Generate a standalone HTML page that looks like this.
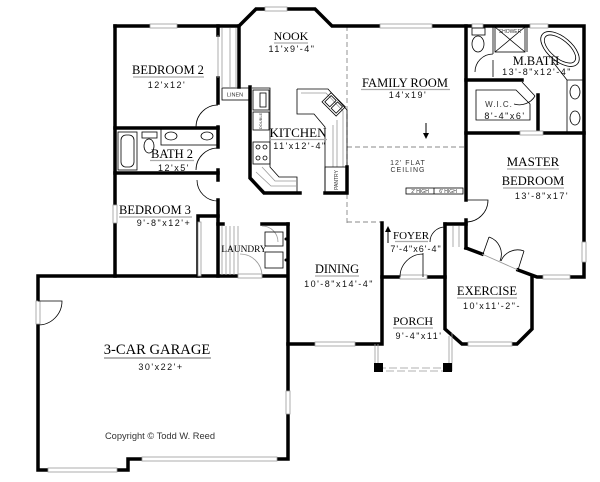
<!DOCTYPE html>
<html><head><meta charset="utf-8"><style>
html,body{margin:0;padding:0;background:#fff;}
svg{display:block}
.l{font-family:"Liberation Serif",serif;fill:#000;text-anchor:middle}
.d{font-family:"Liberation Sans",sans-serif;font-size:9px;letter-spacing:1.5px;fill:#111;text-anchor:middle}
.s{font-family:"Liberation Sans",sans-serif;fill:#333;text-anchor:middle}
.w{fill:none;stroke:#000;stroke-width:3.5;stroke-linecap:square;stroke-linejoin:miter}
.t{fill:none;stroke:#000;stroke-width:0.8}
.g{fill:none;stroke:#999;stroke-width:0.8}
.u{stroke:#aaa;stroke-width:1.3}
.win{fill:#fff;stroke:#999;stroke-width:0.8}
</style></head><body>
<svg width="600" height="482" viewBox="0 0 600 482" xmlns="http://www.w3.org/2000/svg">
<rect width="600" height="482" fill="#fff"/>

<!-- family room dashed -->
<path fill="none" stroke="#888" stroke-width="0.9" stroke-dasharray="5,3" d="M347,26 V223 M347,147 H466 M347,222 H382"/>

<!-- walls -->
<path class="w" d="M115,26 H239 L256,9 H315 L332,26 H584 V277 H537 L518,270"/>
<path class="w" d="M482,254 L466,248"/>
<path class="w" d="M445,224 V329 L462,344 H517 L532,329 V277"/>
<path class="w" d="M445,224 H466"/>
<path class="w" d="M466,26 V200 M466,220 V248"/>
<path class="w" d="M466,133 H520 M543,133 H584"/>
<path class="w" d="M466,80 H522 M538,95 V133"/>
<path class="w" d="M382,223 V344 H288"/>
<path class="w" d="M382,277 H445"/>
<path class="w" d="M288,224 V459 H128 V470 H38 V276 H288"/>
<path class="w" d="M115,26 V276"/>
<path class="w" d="M115,128 H218 M115,173 H218"/>
<path class="w" d="M218,26 V35 M218,78 V103 M218,127 V147 M218,170 V180 M218,200 V276"/>
<path class="w" d="M198,276 V216 H218"/>
<path class="w" d="M218,224 H223 M262,224 H288"/>
<path class="w" d="M250,87 V178 L264,193 H300"/>
<path class="w" d="M325,193 H347 V167"/>
<path class="w" d="M239,26 V87"/>

<!-- windows / openings -->
<rect class="win" x="150" y="24" width="27" height="4"/>
<rect class="win" x="265" y="7" width="22" height="4"/>
<rect class="win" x="380" y="24" width="52" height="4"/>
<rect class="win" x="472" y="24" width="11" height="4"/>
<rect class="win" x="530" y="24" width="18" height="4"/>
<rect class="win" x="582" y="242" width="4" height="20"/>
<rect class="win" x="543" y="275" width="27" height="4"/>
<rect class="win" x="468" y="342" width="44" height="4"/>
<rect class="win" x="315" y="342" width="40" height="4"/>
<rect class="win" x="48" y="468" width="69" height="4"/>
<rect class="win" x="142" y="457" width="135" height="4"/>
<rect class="win" x="286" y="391" width="4" height="23"/>
<rect class="win" x="36" y="301" width="4" height="23"/>
<rect class="win" x="238" y="274" width="24" height="4"/>
<rect class="win" x="400" y="275" width="27" height="4"/>
<rect class="win" x="113" y="205" width="4" height="18"/>
<rect class="win" x="520" y="131" width="23" height="4"/>
<rect class="win" x="198" y="222" width="3" height="54"/>

<!-- bedroom 2 closet -->
<path class="g" d="M218,35 V78 M222,28 V87 M230,28 V87 M236,28 V87"/>
<rect class="t" x="222" y="88" width="27" height="12" fill="#fff"/>
<text class="s" x="235" y="96.5" font-size="5.5">LINEN</text>

<!-- doors -->
<path class="t" d="M196,127 A22,22 0 0 1 218,105"/>
<path class="t" d="M196,170 A22,22 0 0 1 218,148"/>
<path class="t" d="M197,180 A21,21 0 0 0 218,201"/>
<path class="t" d="M38,301 H62 A24,24 0 0 1 38,325"/>
<path class="t" d="M466,200 H488 A22,22 0 0 1 466,222"/>
<path class="t" d="M423,277 V253 M400,277 A23,23 0 0 1 423,254"/>
<path class="t" d="M430,242 A15,15 0 0 1 445,227"/>
<path class="g" d="M453,226 V247 M459,226 V247"/>
<path class="g" d="M482,254 L518,270"/>
<path class="t" d="M483,254 L489,237 M489,237 A18,18 0 0 1 500,261"/>
<path class="t" d="M518,270 L524,251 M524,251 A18,18 0 0 0 501,261"/>
<path class="g" d="M262,226 A16,16 0 0 1 278,242 M240,254 A22,22 0 0 1 262,276"/>

<!-- laundry -->
<path class="g" d="M222,226 V275 M226,226 V275 M230,226 V275 M234,226 V275 M238,226 V275"/>
<rect class="t" x="265" y="232" width="18" height="14"/>
<rect class="t" x="265" y="252" width="18" height="16"/>
<circle cx="286" cy="239" r="1.5" fill="#000"/>
<circle cx="286" cy="260" r="1.5" fill="#000"/>

<!-- bath 2 fixtures -->
<rect class="t" x="118" y="132" width="19" height="38"/>
<rect class="t" x="121" y="135" width="13" height="32" rx="5"/>
<rect class="t" x="142" y="132" width="15" height="6"/>
<ellipse class="t" cx="149" cy="146" rx="5" ry="7"/>
<rect class="t" x="161" y="129" width="56" height="16"/>
<ellipse class="t" cx="171" cy="136" rx="6" ry="4"/>
<ellipse class="t" cx="207" cy="136" rx="6" ry="4"/>

<!-- master bath fixtures -->
<rect class="t" x="472" y="28" width="13" height="7"/>
<ellipse class="t" cx="478" cy="44" rx="6" ry="8"/>
<path class="t" d="M493,27 V54 M475,72 A18,18 0 0 1 493,54 M493,60 V77"/>
<rect class="t" x="495" y="27" width="30" height="25"/>
<path class="t" d="M495,27 L525,52 M525,27 L495,52"/>
<text class="s" x="510" y="33" font-size="5">SHOWER</text>
<ellipse class="t" cx="560" cy="49" rx="23" ry="12" transform="rotate(40 560 49)"/>
<ellipse class="t" cx="560" cy="49" rx="19" ry="9" transform="rotate(40 560 49)"/>
<path class="t" d="M527,27 V52 M553,62 L567,80"/>
<path class="t" d="M567,80 V132 M567,80 H584"/>
<ellipse class="t" cx="575" cy="92" rx="5" ry="7"/>
<ellipse class="t" cx="575" cy="118" rx="5" ry="7"/>
<path class="t" d="M476,90 H516 L530,104 V120 H476 Z"/>
<path class="t" d="M522,82 L535,96 M535,96 A18,18 0 0 1 514,104"/>

<!-- kitchen -->
<path class="t" d="M252,88 H270 V167 L279,177 H297 V193"/>
<path class="g" d="M262,167 L275,181 H297 M256,172 L271,186 H297"/>
<rect class="t" x="253" y="90" width="16" height="20"/>
<rect class="t" x="260" y="93" width="6" height="14"/>
<rect class="t" x="253" y="112" width="16" height="18"/>
<text class="s" font-size="4" transform="translate(262,121) rotate(-90)">DOUBLE</text>
<rect class="t" x="253" y="142" width="17" height="22"/>
<circle class="t" cx="258" cy="147" r="2"/><circle class="t" cx="258" cy="158" r="2"/>
<circle class="t" cx="265" cy="147" r="2"/><circle class="t" cx="265" cy="158" r="2"/>
<path class="t" d="M297,89 H328 L347,110 V167"/>
<path class="t" d="M297,89 V114 H314 L325,127 V193"/>
<path class="g" d="M301,93 H326 L343,111 V167 M333,125 V167 M337,120 V167"/>
<rect class="t" x="324" y="98" width="20" height="13" transform="rotate(45 334 104)"/>
<rect class="t" x="326" y="100" width="7" height="9" transform="rotate(45 334 104)"/>
<rect class="t" x="335" y="100" width="7" height="9" transform="rotate(45 334 104)"/>
<rect class="t" x="325" y="167" width="22" height="26"/>
<text class="s" font-size="5" transform="translate(338,180) rotate(-90)">PANTRY</text>

<!-- porch -->
<path class="g" d="M375,344 V371 M378,344 V368 M452,333 V371 M449,336 V368"/>
<path class="g" stroke-dasharray="8,3" d="M378,368 H449 M375,371 H452"/>
<rect x="374" y="363" width="9" height="9" fill="#000"/>
<rect x="443" y="363" width="9" height="9" fill="#000"/>

<!-- arrows -->
<path d="M426,123 V135" stroke="#000" stroke-width="1"/>
<polygon points="423,133 429,133 426,139" fill="#000"/>
<path d="M388,230 V243" stroke="#000" stroke-width="1"/>
<polygon points="385,232 391,232 388,226" fill="#000"/>

<!-- 2'/6' high box -->
<rect class="t" x="406" y="188" width="57" height="6" fill="#fff"/>
<line class="t" x1="434" y1="188" x2="434" y2="194"/>
<text class="s" x="420" y="193" font-size="5">2' HIGH</text>
<text class="s" x="448" y="193" font-size="5">6' HIGH</text>

<!-- labels -->
<text class="l" x="291" y="40" font-size="12">NOOK</text>
<line class="u" x1="274" y1="43" x2="308" y2="43"/>
<text class="d" x="292" y="52">11'x9'-4"</text>

<text class="l" x="168" y="74" font-size="12.5">BEDROOM 2</text>
<line class="u" x1="133" y1="77" x2="204" y2="77"/>
<text class="d" x="167" y="88">12'x12'</text>

<text class="l" x="405" y="87" font-size="12.5">FAMILY ROOM</text>
<line class="u" x1="361" y1="89.5" x2="450" y2="89.5"/>
<text class="d" x="408" y="98">14'x19'</text>

<text class="l" x="536" y="65" font-size="12.4">M.BATH</text>
<text class="d" x="537" y="75">13'-8"x12'-4"</text>

<text class="s" x="499" y="107" font-size="8" style="letter-spacing:1px">W.I.C.</text>
<text class="d" x="505" y="119">8'-4"x6'</text>

<text class="l" x="298" y="137" font-size="13">KITCHEN</text>
<line class="u" x1="270" y1="139.5" x2="327" y2="139.5"/>
<text class="d" x="300" y="149">11'x12'-4"</text>

<text class="l" x="172" y="158" font-size="12.5">BATH 2</text>
<line class="u" x1="150" y1="160.5" x2="194" y2="160.5"/>
<text class="d" x="174" y="171">12'x5'</text>

<text class="s" x="408" y="165" font-size="7" fill="#666" style="letter-spacing:1px">12' FLAT</text>
<text class="s" x="408" y="172" font-size="7" fill="#666" style="letter-spacing:1px">CEILING</text>

<text class="l" x="533" y="166" font-size="13">MASTER</text>
<line class="u" x1="507" y1="169" x2="559" y2="169"/>
<text class="l" x="533" y="185" font-size="12.5">BEDROOM</text>
<line class="u" x1="503" y1="188" x2="564" y2="188"/>
<text class="d" x="542" y="199">13'-8"x17'</text>

<text class="l" x="155" y="214" font-size="12.5">BEDROOM 3</text>
<line class="u" x1="119" y1="217" x2="192" y2="217"/>
<text class="d" x="164" y="226">9'-8"x12'+</text>

<text class="l" x="411" y="239" font-size="11">FOYER</text>
<line class="u" x1="395" y1="241.5" x2="428" y2="241.5"/>
<text class="d" x="416" y="252" style="letter-spacing:1px">7'-4"x6'-4"</text>

<text class="l" x="244" y="252" font-size="9.4">LAUNDRY</text>

<text class="l" x="337" y="273" font-size="12.4">DINING</text>
<line class="u" x1="315" y1="276" x2="359" y2="276"/>
<text class="d" x="339" y="287">10'-8"x14'-4"</text>

<text class="l" x="487" y="295" font-size="12.6">EXERCISE</text>
<line class="u" x1="457" y1="298" x2="517" y2="298"/>
<text class="d" x="492" y="309">10'x11'-2"-</text>

<text class="l" x="413" y="325" font-size="12">PORCH</text>
<line class="u" x1="393" y1="328" x2="433" y2="328"/>
<text class="d" x="419" y="339">9'-4"x11'</text>

<text class="l" x="157" y="354" font-size="14.6">3-CAR GARAGE</text>
<line x1="104" y1="358" x2="211" y2="358" stroke="#aaa" stroke-width="1.8"/>
<text class="d" x="161" y="370">30'x22'+</text>

<text class="s" x="160" y="439" font-size="9.3" fill="#555">Copyright © Todd W. Reed</text>
</svg>
</body></html>
